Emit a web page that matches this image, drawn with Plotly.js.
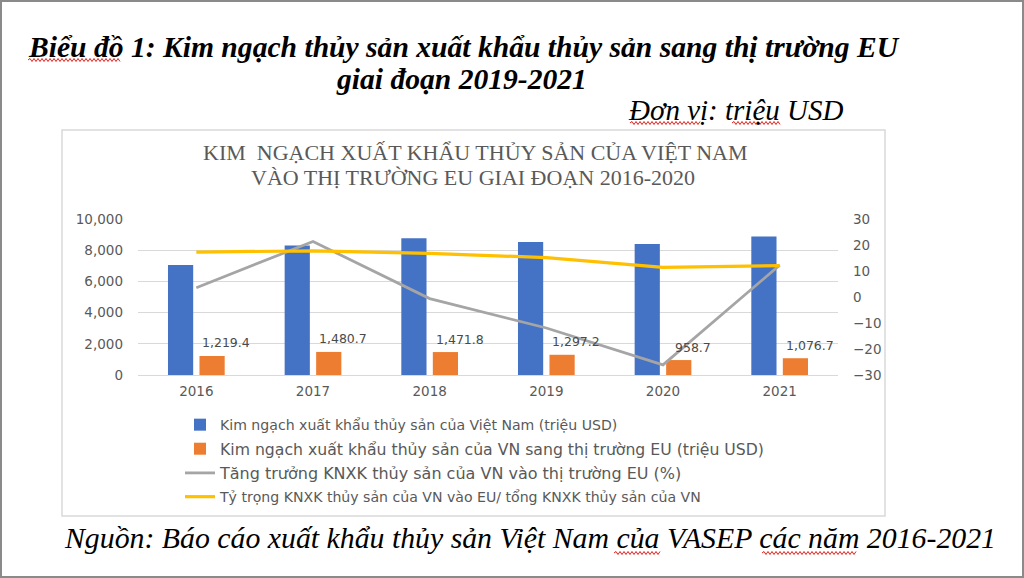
<!DOCTYPE html>
<html>
<head>
<meta charset="utf-8">
<script src="https://cdn.plot.ly/plotly-3.0.1.min.js"></script>
<style>
  body { margin: 0; background: #fff; }
  #wrap { position: relative; width: 1024px; height: 578px; }
  #chart { width: 1024px; height: 578px; }
  #frame { position: absolute; left: 0; top: 0; width: 1024px; height: 578px;
           box-sizing: border-box; border: 2px solid #8a8a8a; pointer-events: none; }
</style>
</head>
<body>
<div id="wrap">
  <div id="chart"></div>
  <div id="frame"></div>
</div>
<script>
// values
var years = ['2016', '2017', '2018', '2019', '2020', '2021'];
var totalExport = [7050, 8300, 8780, 8530, 8400, 8880];        // trieu USD
var euExport = [1219.4, 1480.7, 1471.8, 1297.2, 958.7, 1076.7];   // trieu USD
var euGrowth = [3.6, 21.4, -0.6, -11.9, -26.1, 12.3];             // %
var euShare = [17.3, 17.8, 16.8, 15.2, 11.4, 12.1];               // %

var seriesNames = [
  'Kim ngạch xuất khẩu thủy sản của Việt Nam (triệu USD)',
  'Kim ngạch xuất khẩu thủy sản của VN sang thị trường EU (triệu USD)',
  'Tăng trưởng KNXK thủy sản của VN vào thị trường EU (%)',
  'Tỷ trọng KNXK thủy sản của VN vào EU/ tổng KNXK thủy sản của VN'
];

// plot area in page pixels, used to place the page texts
var L = 138, R = 838, T = 219, B = 375;
function px(x) { return (x - L) / (R - L); }
function py(y) { return (B - y) / (B - T); }

var GREY = '#595959';
var SANS = 'DejaVu Sans';
var SERIF = 'Liberation Serif';

var data = [
  {
    type: 'bar', x: years, y: totalExport, name: seriesNames[0],
    marker: {color: '#4472c4'}, legend: 'legend', hoverinfo: 'y'
  },
  {
    type: 'bar', x: years, y: euExport, name: seriesNames[1],
    marker: {color: '#ed7d31'}, legend: 'legend2', hoverinfo: 'y'
  },
  {
    type: 'scatter', mode: 'lines', x: years, y: euGrowth, name: seriesNames[2],
    yaxis: 'y2', line: {color: '#a5a5a5', width: 2.8}, legend: 'legend3'
  },
  {
    type: 'scatter', mode: 'lines', x: years, y: euShare, name: seriesNames[3],
    yaxis: 'y2', line: {color: '#ffc000', width: 3.2}, legend: 'legend4'
  }
];

// data labels on the orange bars (x given as category index)
var annotations = [];
for (var i = 0; i < years.length; i++) {
  annotations.push({
    x: i, y: euExport[i], xref: 'x', yref: 'y',
    text: euExport[i].toLocaleString('en-US', {minimumFractionDigits: 1, maximumFractionDigits: 1}),
    showarrow: false, xshift: 30, yshift: 13,
    font: {family: SANS, size: 12.5, color: '#4a4a4a'}
  });
}

// texts of the page around the chart
annotations.push(
  {
    text: '<b><i>Biểu đồ 1: Kim ngạch thủy sản xuất khẩu thủy sản sang thị trường EU</i></b>',
    xref: 'paper', yref: 'paper', x: px(26), y: py(47), xanchor: 'left', yanchor: 'middle',
    showarrow: false, font: {family: SERIF, size: 29.6, color: '#000'}
  },
  {
    text: '<b><i>giai đoạn 2019-2021</i></b>',
    xref: 'paper', yref: 'paper', x: px(461), y: py(79), xanchor: 'center', yanchor: 'middle',
    showarrow: false, font: {family: SERIF, size: 29.6, color: '#000'}
  },
  {
    text: '<i>Đơn vị: triệu USD</i>',
    xref: 'paper', yref: 'paper', x: px(626), y: py(110), xanchor: 'left', yanchor: 'middle',
    showarrow: false, font: {family: SERIF, size: 29, color: '#000'}
  },
  {
    text: 'KIM\u00a0 NGẠCH XUẤT KHẨU THỦY SẢN CỦA VIỆT NAM',
    xref: 'paper', yref: 'paper', x: px(475), y: py(152), xanchor: 'center', yanchor: 'middle',
    showarrow: false, font: {family: SERIF, size: 22, color: GREY}
  },
  {
    text: 'VÀO THỊ TRƯỜNG EU GIAI ĐOẠN 2016-2020',
    xref: 'paper', yref: 'paper', x: px(473), y: py(177), xanchor: 'center', yanchor: 'middle',
    showarrow: false, font: {family: SERIF, size: 22, color: GREY}
  },
  {
    text: '<i>Nguồn: Báo cáo xuất khẩu thủy sản Việt Nam của VASEP các năm 2016-2021</i>',
    xref: 'paper', yref: 'paper', x: px(62), y: py(537), xanchor: 'left', yanchor: 'middle',
    showarrow: false, font: {family: SERIF, size: 29.8, color: '#000'}
  }
);

function legendAt(yPix, size) {
  return {
    x: px(180), y: py(yPix), xanchor: 'left', yanchor: 'middle',
    bgcolor: 'rgba(0,0,0,0)', itemwidth: 30,
    font: {family: SANS, size: size, color: GREY}
  };
}

// red spell-check wave under some words of the page
function squiggle(x0, x1, y) {
  var d = 'M' + px(x0) + ',' + py(y);
  var up = true;
  for (var x = x0 + 2; x <= x1; x += 2) {
    d += ' L' + px(x) + ',' + py(up ? y - 1.5 : y + 1.5);
    up = !up;
  }
  return {
    type: 'path', xref: 'paper', yref: 'paper', path: d,
    line: {color: '#e0201b', width: 1}
  };
}

var layout = {
  width: 1024,
  height: 578,
  paper_bgcolor: '#fff',
  plot_bgcolor: '#fff',
  margin: {l: L, r: 1024 - R, t: T, b: 578 - B, autoexpand: false},
  showlegend: true,
  barmode: 'group',
  bargap: 0.46,
  bargroupgap: 0.2,
  xaxis: {
    type: 'category', range: [-0.5, years.length - 0.5],
    showgrid: false, showline: false, zeroline: false, ticks: '',
    ticklabelstandoff: 6,
    tickfont: {family: SANS, size: 13.5, color: GREY}
  },
  yaxis: {
    range: [0, 10008], dtick: 2000, tickformat: ',d',
    showgrid: true, gridcolor: '#d9d9d9', gridwidth: 1,
    zeroline: true, zerolinecolor: '#d9d9d9', zerolinewidth: 1,
    showline: false, ticks: '', ticklabelstandoff: 14,
    tickfont: {family: SANS, size: 13.5, color: GREY}
  },
  yaxis2: {
    overlaying: 'y', side: 'right',
    range: [-30, 30.048], dtick: 10,
    showgrid: false, zeroline: false, showline: false, ticks: '',
    ticklabelstandoff: 14,
    tickfont: {family: SANS, size: 13.5, color: GREY}
  },
  legend: legendAt(425, 14.1),
  legend2: legendAt(449, 15.7),
  legend3: legendAt(473, 16),
  legend4: legendAt(497, 14.1),
  shapes: [
    {
      type: 'rect', xref: 'paper', yref: 'paper', layer: 'below',
      x0: px(62), x1: px(885), y0: py(516), y1: py(130),
      line: {color: '#d9d9d9', width: 1.5}
    },
    squiggle(28, 120, 60),
    squiggle(630, 700, 123),
    squiggle(732, 780, 123),
    squiggle(614, 660, 553),
    squiggle(762, 856, 553)
  ],
  annotations: annotations
};

Plotly.newPlot('chart', data, layout, {displayModeBar: false, staticPlot: true});
</script>
</body>
</html>
